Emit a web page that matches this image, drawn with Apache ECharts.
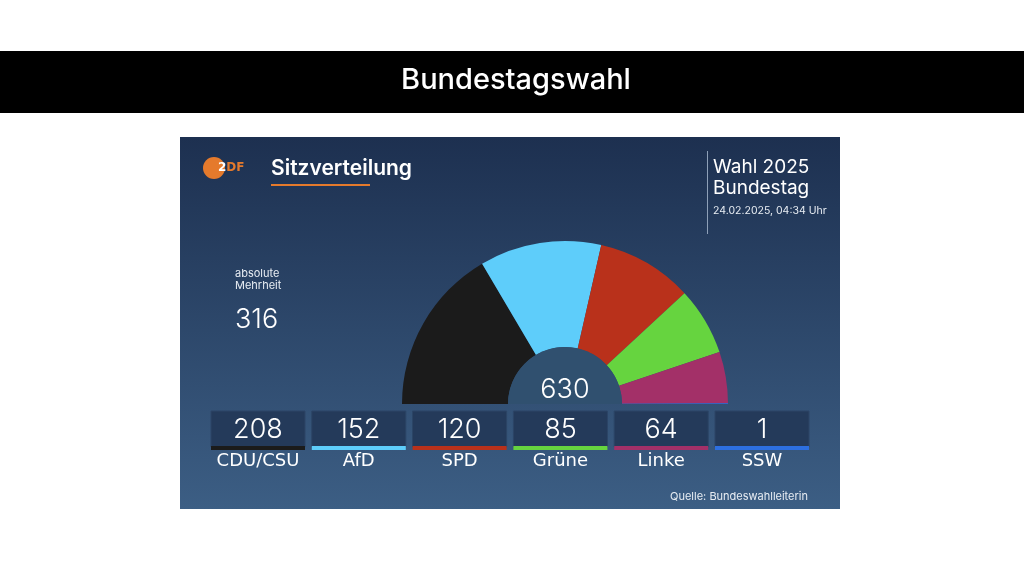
<!DOCTYPE html>
<html>
<head>
<meta charset="utf-8">
<script src="https://cdn.jsdelivr.net/npm/echarts@6/dist/echarts.min.js"></script>
<style>
  html, body { margin: 0; padding: 0; background: #fff; }
  #chart { width: 1024px; height: 572px; }
</style>
</head>
<body>
<div id="chart"></div>
<script>
const parties = ['CDU/CSU', 'AfD', 'SPD', 'Grüne', 'Linke', 'SSW'];
const seats = [208, 152, 120, 85, 64, 1];
const partyColors = ['#1b1b1b', '#5ecdfa', '#b9311b', '#66d43f', '#a33068', '#2d6fe0'];
const totalSeats = 630;
const majority = 316;

const font = 'Inter, "Noto Sans", sans-serif';
const numFont = 'Inter, "Noto Sans", sans-serif';

let chart = echarts.init(document.getElementById('chart'));

// boxes under the half circle
let boxes = [];
parties.forEach((p, i) => {
    let x = 211 + i * 100.8;
    boxes.push({
        type: 'rect', z: 10,
        shape: { x: x, y: 411, width: 94, height: 36 },
        style: { fill: '#243a5a', stroke: '#2c4566', lineWidth: 1 }
    });
    boxes.push({
        type: 'rect', z: 10,
        shape: { x: x, y: 446, width: 94, height: 4 },
        style: { fill: partyColors[i] }
    });
    boxes.push({
        type: 'text', z: 11, x: x + 47, y: 430,
        style: { text: String(seats[i]), fill: '#fff', font: '300 27px ' + numFont, align: 'center', verticalAlign: 'middle' }
    });
    boxes.push({
        type: 'text', z: 11, x: x + 47, y: 461,
        style: { text: p, fill: '#fff', font: '18px "DejaVu Sans", sans-serif', align: 'center', verticalAlign: 'middle' }
    });
});

let option = {
    animation: false,
    backgroundColor: '#ffffff',
    graphic: [
        { type: 'rect', z: -10, shape: { x: 0, y: 51, width: 1024, height: 62 }, style: { fill: '#000' } },
        {
            type: 'text', z: 1, x: 516, y: 80,
            style: { text: 'Bundestagswahl', fill: '#fff', font: '500 29px ' + font, align: 'center', verticalAlign: 'middle' }
        },
        {
            type: 'rect', z: -10, shape: { x: 180, y: 137, width: 660, height: 372 },
            style: {
                fill: new echarts.graphic.LinearGradient(0, 0, 0, 1, [
                    { offset: 0, color: '#1d3050' },
                    { offset: 1, color: '#3c5e84' }
                ])
            }
        },
        // zdf logo
        { type: 'circle', z: 1, shape: { cx: 214, cy: 168, r: 11 }, style: { fill: '#e57a2c' } },
        {
            type: 'text', z: 2, x: 218, y: 168,
            style: {
                text: '{a|2}{b|DF}', verticalAlign: 'middle',
                rich: {
                    a: { fill: '#fff', font: 'bold 12px "DejaVu Sans", sans-serif' },
                    b: { fill: '#e57a2c', font: 'bold 12px "DejaVu Sans", sans-serif' }
                }
            }
        },
        {
            type: 'text', z: 1, x: 271, y: 169,
            style: { text: 'Sitzverteilung', fill: '#fff', font: '600 21px ' + font, verticalAlign: 'middle' }
        },
        { type: 'rect', z: 1, shape: { x: 271, y: 184, width: 99, height: 2 }, style: { fill: '#e57a2c' } },
        // top right
        { type: 'rect', z: 1, shape: { x: 707, y: 151, width: 1, height: 83 }, style: { fill: '#8ea0b8' } },
        {
            type: 'text', z: 1, x: 713, y: 167,
            style: { text: 'Wahl 2025', fill: '#fff', font: '19px ' + font, verticalAlign: 'middle' }
        },
        {
            type: 'text', z: 1, x: 713, y: 188,
            style: { text: 'Bundestag', fill: '#fff', font: '19px ' + font, verticalAlign: 'middle' }
        },
        {
            type: 'text', z: 1, x: 713, y: 211,
            style: { text: '24.02.2025, 04:34 Uhr', fill: '#e8edf3', font: '10.5px ' + font, verticalAlign: 'middle' }
        },
        // majority
        {
            type: 'text', z: 1, x: 235, y: 274,
            style: { text: 'absolute', fill: '#e8edf3', font: '11px ' + font, verticalAlign: 'middle' }
        },
        {
            type: 'text', z: 1, x: 235, y: 286,
            style: { text: 'Mehrheit', fill: '#e8edf3', font: '11px ' + font, verticalAlign: 'middle' }
        },
        {
            type: 'text', z: 1, x: 235, y: 320,
            style: { text: String(majority), fill: '#fff', font: '300 27px ' + numFont, verticalAlign: 'middle' }
        },
        {
            type: 'text', z: 20, x: 565, y: 390,
            style: { text: String(totalSeats), fill: '#fff', font: '300 27px ' + numFont, align: 'center', verticalAlign: 'middle' }
        },
        {
            type: 'text', z: 1, x: 808, y: 497,
            style: { text: 'Quelle: Bundeswahlleiterin', fill: '#e8edf3', font: '11px ' + font, align: 'right', verticalAlign: 'middle' }
        }
    ].concat(boxes),
    series: [
        {
            type: 'pie',
            center: [565, 404],
            radius: [57, 163],
            startAngle: 180,
            endAngle: 0,
            clockwise: true,
            silent: true,
            label: { show: false },
            labelLine: { show: false },
            itemStyle: { borderWidth: 0 },
            data: parties.map((p, i) => ({ name: p, value: seats[i], itemStyle: { color: partyColors[i] } }))
        },
        {
            type: 'pie',
            center: [565, 404],
            radius: [0, 57],
            startAngle: 180,
            endAngle: 0,
            silent: true,
            label: { show: false },
            labelLine: { show: false },
            data: [{ name: 'Sitze', value: totalSeats, itemStyle: { color: '#30506f' } }]
        }
    ]
};

option && chart.setOption(option);
</script>
</body>
</html>
